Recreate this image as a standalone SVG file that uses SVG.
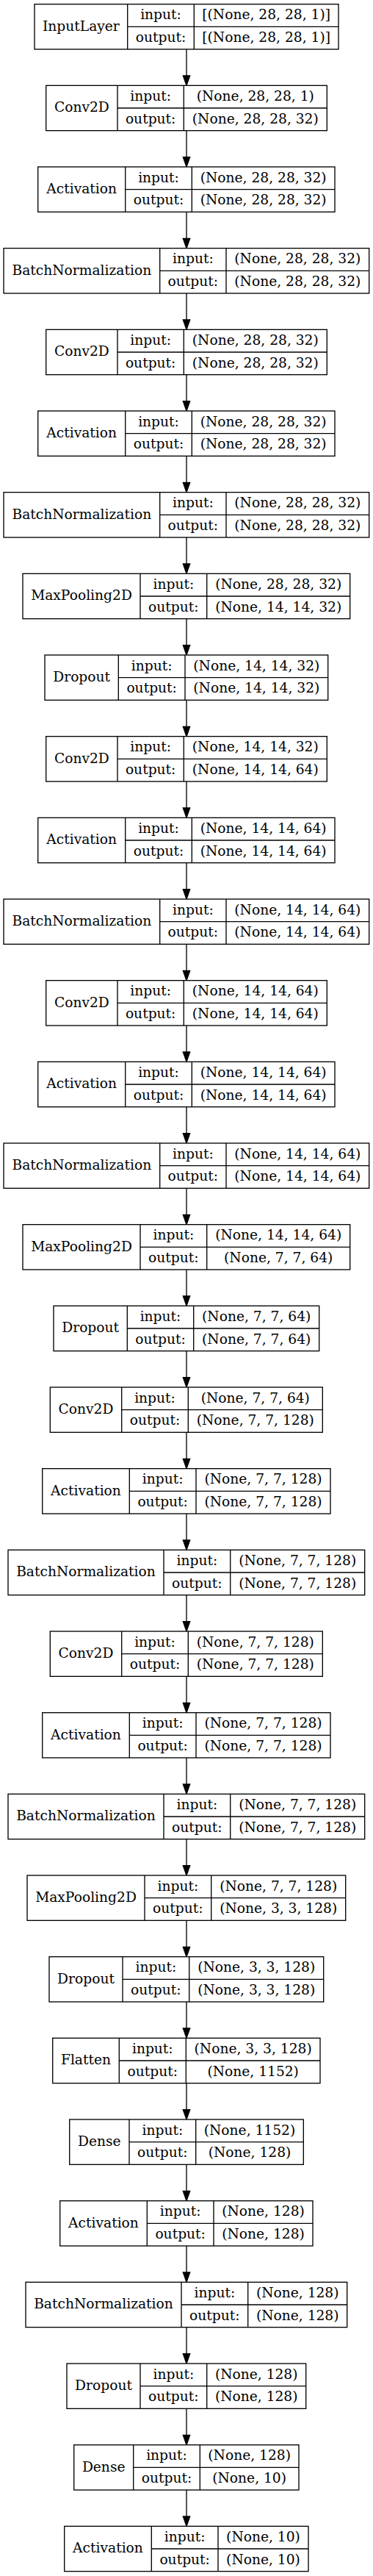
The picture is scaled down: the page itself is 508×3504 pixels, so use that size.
<svg xmlns="http://www.w3.org/2000/svg" xmlns:xlink="http://www.w3.org/1999/xlink" width="508" height="3504" viewBox="0 0 508 3504">
<style>
.b{fill:#fff;stroke:#000;stroke-width:1.33}
.l{fill:none;stroke:#000;stroke-width:1.33}
.c{fill:none;stroke:#000;stroke-width:1.33}
.h{fill:#000;stroke:#000;stroke-width:1.33}
text{font-family:"DejaVu Serif","Liberation Serif",serif;font-size:18.67px;text-anchor:middle;fill:#000}
</style>
<defs>
<path id="ah" class="h" d="M-4.67,-13.33L4.67,-13.33L0,0Z"/>
</defs>
<rect x="0" y="0" width="508" height="3504" fill="#fff"/>
<g id="connectors">
<path class="c" d="M254,67V103M254,177.67V213.67M254,288.33V324.33M254,399V435M254,509.67V545.67M254,620.33V656.33M254,731V767M254,841.67V877.67M254,952.33V988.33M254,1063V1099M254,1173.67V1209.67M254,1284.33V1320.33M254,1395V1431M254,1505.67V1541.67M254,1616.33V1652.33M254,1727V1763M254,1837.67V1873.67M254,1948.33V1984.33M254,2059V2095M254,2169.67V2205.67M254,2280.33V2316.33M254,2391V2427M254,2501.67V2537.67M254,2612.33V2648.33M254,2723V2759M254,2833.67V2869.67M254,2944.33V2980.33M254,3055V3091M254,3165.67V3201.67M254,3276.33V3312.33M254,3387V3423"/>
<use xlink:href="#ah" x="254" y="116.33"/><use xlink:href="#ah" x="254" y="227"/><use xlink:href="#ah" x="254" y="337.67"/><use xlink:href="#ah" x="254" y="448.33"/><use xlink:href="#ah" x="254" y="559"/><use xlink:href="#ah" x="254" y="669.67"/><use xlink:href="#ah" x="254" y="780.33"/><use xlink:href="#ah" x="254" y="891"/><use xlink:href="#ah" x="254" y="1001.67"/><use xlink:href="#ah" x="254" y="1112.33"/><use xlink:href="#ah" x="254" y="1223"/><use xlink:href="#ah" x="254" y="1333.67"/><use xlink:href="#ah" x="254" y="1444.33"/><use xlink:href="#ah" x="254" y="1555"/><use xlink:href="#ah" x="254" y="1665.67"/><use xlink:href="#ah" x="254" y="1776.33"/><use xlink:href="#ah" x="254" y="1887"/><use xlink:href="#ah" x="254" y="1997.67"/><use xlink:href="#ah" x="254" y="2108.33"/><use xlink:href="#ah" x="254" y="2219"/><use xlink:href="#ah" x="254" y="2329.67"/><use xlink:href="#ah" x="254" y="2440.33"/><use xlink:href="#ah" x="254" y="2551"/><use xlink:href="#ah" x="254" y="2661.67"/><use xlink:href="#ah" x="254" y="2772.33"/><use xlink:href="#ah" x="254" y="2883"/><use xlink:href="#ah" x="254" y="2993.67"/><use xlink:href="#ah" x="254" y="3104.33"/><use xlink:href="#ah" x="254" y="3215"/><use xlink:href="#ah" x="254" y="3325.67"/><use xlink:href="#ah" x="254" y="3436.33"/>
</g>
<g id="n0" transform="translate(0,5.67)"><rect class="b" x="47" y="0" width="414" height="61.33"/><path class="l" d="M173.7,0V61.33M264.3,0V61.33M173.7,30.67H461"/><text x="110.35" y="36">InputLayer</text><text x="219" y="20.5">input:</text><text x="362.65" y="20.5">[(None, 28, 28, 1)]</text><text x="219" y="51.2">output:</text><text x="362.65" y="51.2">[(None, 28, 28, 1)]</text></g>
<g id="n1" transform="translate(0,116.33)"><rect class="b" x="62.7" y="0" width="382.6" height="61.33"/><path class="l" d="M160,0V61.33M250.3,0V61.33M160,30.67H445.3"/><text x="111.35" y="36">Conv2D</text><text x="205.15" y="20.5">input:</text><text x="347.8" y="20.5">(None, 28, 28, 1)</text><text x="205.15" y="51.2">output:</text><text x="347.8" y="51.2">(None, 28, 28, 32)</text></g>
<g id="n2" transform="translate(0,227)"><rect class="b" x="51.7" y="0" width="404.3" height="61.33"/><path class="l" d="M170.7,0V61.33M261.3,0V61.33M170.7,30.67H456"/><text x="111.2" y="36">Activation</text><text x="216" y="20.5">input:</text><text x="358.65" y="20.5">(None, 28, 28, 32)</text><text x="216" y="51.2">output:</text><text x="358.65" y="51.2">(None, 28, 28, 32)</text></g>
<g id="n3" transform="translate(0,337.67)"><rect class="b" x="5" y="0" width="497.7" height="61.33"/><path class="l" d="M217.7,0V61.33M308,0V61.33M217.7,30.67H502.7"/><text x="111.35" y="36">BatchNormalization</text><text x="262.85" y="20.5">input:</text><text x="405.35" y="20.5">(None, 28, 28, 32)</text><text x="262.85" y="51.2">output:</text><text x="405.35" y="51.2">(None, 28, 28, 32)</text></g>
<g id="n4" transform="translate(0,448.33)"><rect class="b" x="62.7" y="0" width="382.6" height="61.33"/><path class="l" d="M160,0V61.33M250.3,0V61.33M160,30.67H445.3"/><text x="111.35" y="36">Conv2D</text><text x="205.15" y="20.5">input:</text><text x="347.8" y="20.5">(None, 28, 28, 32)</text><text x="205.15" y="51.2">output:</text><text x="347.8" y="51.2">(None, 28, 28, 32)</text></g>
<g id="n5" transform="translate(0,559)"><rect class="b" x="51.7" y="0" width="404.3" height="61.33"/><path class="l" d="M170.7,0V61.33M261.3,0V61.33M170.7,30.67H456"/><text x="111.2" y="36">Activation</text><text x="216" y="20.5">input:</text><text x="358.65" y="20.5">(None, 28, 28, 32)</text><text x="216" y="51.2">output:</text><text x="358.65" y="51.2">(None, 28, 28, 32)</text></g>
<g id="n6" transform="translate(0,669.67)"><rect class="b" x="5" y="0" width="497.7" height="61.33"/><path class="l" d="M217.7,0V61.33M308,0V61.33M217.7,30.67H502.7"/><text x="111.35" y="36">BatchNormalization</text><text x="262.85" y="20.5">input:</text><text x="405.35" y="20.5">(None, 28, 28, 32)</text><text x="262.85" y="51.2">output:</text><text x="405.35" y="51.2">(None, 28, 28, 32)</text></g>
<g id="n7" transform="translate(0,780.33)"><rect class="b" x="31" y="0" width="445.7" height="61.33"/><path class="l" d="M191,0V61.33M281.7,0V61.33M191,30.67H476.7"/><text x="111" y="36">MaxPooling2D</text><text x="236.35" y="20.5">input:</text><text x="379.2" y="20.5">(None, 28, 28, 32)</text><text x="236.35" y="51.2">output:</text><text x="379.2" y="51.2">(None, 14, 14, 32)</text></g>
<g id="n8" transform="translate(0,891)"><rect class="b" x="61" y="0" width="385.7" height="61.33"/><path class="l" d="M161.3,0V61.33M252,0V61.33M161.3,30.67H446.7"/><text x="111.15" y="36">Dropout</text><text x="206.65" y="20.5">input:</text><text x="349.35" y="20.5">(None, 14, 14, 32)</text><text x="206.65" y="51.2">output:</text><text x="349.35" y="51.2">(None, 14, 14, 32)</text></g>
<g id="n9" transform="translate(0,1001.67)"><rect class="b" x="62.7" y="0" width="382.6" height="61.33"/><path class="l" d="M160,0V61.33M250.3,0V61.33M160,30.67H445.3"/><text x="111.35" y="36">Conv2D</text><text x="205.15" y="20.5">input:</text><text x="347.8" y="20.5">(None, 14, 14, 32)</text><text x="205.15" y="51.2">output:</text><text x="347.8" y="51.2">(None, 14, 14, 64)</text></g>
<g id="n10" transform="translate(0,1112.33)"><rect class="b" x="51.7" y="0" width="404.3" height="61.33"/><path class="l" d="M170.7,0V61.33M261.3,0V61.33M170.7,30.67H456"/><text x="111.2" y="36">Activation</text><text x="216" y="20.5">input:</text><text x="358.65" y="20.5">(None, 14, 14, 64)</text><text x="216" y="51.2">output:</text><text x="358.65" y="51.2">(None, 14, 14, 64)</text></g>
<g id="n11" transform="translate(0,1223)"><rect class="b" x="5" y="0" width="497.7" height="61.33"/><path class="l" d="M217.7,0V61.33M308,0V61.33M217.7,30.67H502.7"/><text x="111.35" y="36">BatchNormalization</text><text x="262.85" y="20.5">input:</text><text x="405.35" y="20.5">(None, 14, 14, 64)</text><text x="262.85" y="51.2">output:</text><text x="405.35" y="51.2">(None, 14, 14, 64)</text></g>
<g id="n12" transform="translate(0,1333.67)"><rect class="b" x="62.7" y="0" width="382.6" height="61.33"/><path class="l" d="M160,0V61.33M250.3,0V61.33M160,30.67H445.3"/><text x="111.35" y="36">Conv2D</text><text x="205.15" y="20.5">input:</text><text x="347.8" y="20.5">(None, 14, 14, 64)</text><text x="205.15" y="51.2">output:</text><text x="347.8" y="51.2">(None, 14, 14, 64)</text></g>
<g id="n13" transform="translate(0,1444.33)"><rect class="b" x="51.7" y="0" width="404.3" height="61.33"/><path class="l" d="M170.7,0V61.33M261.3,0V61.33M170.7,30.67H456"/><text x="111.2" y="36">Activation</text><text x="216" y="20.5">input:</text><text x="358.65" y="20.5">(None, 14, 14, 64)</text><text x="216" y="51.2">output:</text><text x="358.65" y="51.2">(None, 14, 14, 64)</text></g>
<g id="n14" transform="translate(0,1555)"><rect class="b" x="5" y="0" width="497.7" height="61.33"/><path class="l" d="M217.7,0V61.33M308,0V61.33M217.7,30.67H502.7"/><text x="111.35" y="36">BatchNormalization</text><text x="262.85" y="20.5">input:</text><text x="405.35" y="20.5">(None, 14, 14, 64)</text><text x="262.85" y="51.2">output:</text><text x="405.35" y="51.2">(None, 14, 14, 64)</text></g>
<g id="n15" transform="translate(0,1665.67)"><rect class="b" x="31" y="0" width="445.7" height="61.33"/><path class="l" d="M191,0V61.33M281.7,0V61.33M191,30.67H476.7"/><text x="111" y="36">MaxPooling2D</text><text x="236.35" y="20.5">input:</text><text x="379.2" y="20.5">(None, 14, 14, 64)</text><text x="236.35" y="51.2">output:</text><text x="379.2" y="51.2">(None, 7, 7, 64)</text></g>
<g id="n16" transform="translate(0,1776.33)"><rect class="b" x="73" y="0" width="361.7" height="61.33"/><path class="l" d="M173.3,0V61.33M263.7,0V61.33M173.3,30.67H434.7"/><text x="123.15" y="36">Dropout</text><text x="218.5" y="20.5">input:</text><text x="349.2" y="20.5">(None, 7, 7, 64)</text><text x="218.5" y="51.2">output:</text><text x="349.2" y="51.2">(None, 7, 7, 64)</text></g>
<g id="n17" transform="translate(0,1887)"><rect class="b" x="68.3" y="0" width="371" height="61.33"/><path class="l" d="M165.7,0V61.33M256.3,0V61.33M165.7,30.67H439.3"/><text x="117" y="36">Conv2D</text><text x="211" y="20.5">input:</text><text x="347.8" y="20.5">(None, 7, 7, 64)</text><text x="211" y="51.2">output:</text><text x="347.8" y="51.2">(None, 7, 7, 128)</text></g>
<g id="n18" transform="translate(0,1997.67)"><rect class="b" x="57.7" y="0" width="392.3" height="61.33"/><path class="l" d="M176.3,0V61.33M267,0V61.33M176.3,30.67H450"/><text x="117" y="36">Activation</text><text x="221.65" y="20.5">input:</text><text x="358.5" y="20.5">(None, 7, 7, 128)</text><text x="221.65" y="51.2">output:</text><text x="358.5" y="51.2">(None, 7, 7, 128)</text></g>
<g id="n19" transform="translate(0,2108.33)"><rect class="b" x="11" y="0" width="485.7" height="61.33"/><path class="l" d="M223,0V61.33M313.7,0V61.33M223,30.67H496.7"/><text x="117" y="36">BatchNormalization</text><text x="268.35" y="20.5">input:</text><text x="405.2" y="20.5">(None, 7, 7, 128)</text><text x="268.35" y="51.2">output:</text><text x="405.2" y="51.2">(None, 7, 7, 128)</text></g>
<g id="n20" transform="translate(0,2219)"><rect class="b" x="68.3" y="0" width="371" height="61.33"/><path class="l" d="M165.7,0V61.33M256.3,0V61.33M165.7,30.67H439.3"/><text x="117" y="36">Conv2D</text><text x="211" y="20.5">input:</text><text x="347.8" y="20.5">(None, 7, 7, 128)</text><text x="211" y="51.2">output:</text><text x="347.8" y="51.2">(None, 7, 7, 128)</text></g>
<g id="n21" transform="translate(0,2329.67)"><rect class="b" x="57.7" y="0" width="392.3" height="61.33"/><path class="l" d="M176.3,0V61.33M267,0V61.33M176.3,30.67H450"/><text x="117" y="36">Activation</text><text x="221.65" y="20.5">input:</text><text x="358.5" y="20.5">(None, 7, 7, 128)</text><text x="221.65" y="51.2">output:</text><text x="358.5" y="51.2">(None, 7, 7, 128)</text></g>
<g id="n22" transform="translate(0,2440.33)"><rect class="b" x="11" y="0" width="485.7" height="61.33"/><path class="l" d="M223,0V61.33M313.7,0V61.33M223,30.67H496.7"/><text x="117" y="36">BatchNormalization</text><text x="268.35" y="20.5">input:</text><text x="405.2" y="20.5">(None, 7, 7, 128)</text><text x="268.35" y="51.2">output:</text><text x="405.2" y="51.2">(None, 7, 7, 128)</text></g>
<g id="n23" transform="translate(0,2551)"><rect class="b" x="37" y="0" width="433.7" height="61.33"/><path class="l" d="M197,0V61.33M287.7,0V61.33M197,30.67H470.7"/><text x="117" y="36">MaxPooling2D</text><text x="242.35" y="20.5">input:</text><text x="379.2" y="20.5">(None, 7, 7, 128)</text><text x="242.35" y="51.2">output:</text><text x="379.2" y="51.2">(None, 3, 3, 128)</text></g>
<g id="n24" transform="translate(0,2661.67)"><rect class="b" x="67" y="0" width="373.7" height="61.33"/><path class="l" d="M167,0V61.33M257.7,0V61.33M167,30.67H440.7"/><text x="117" y="36">Dropout</text><text x="212.35" y="20.5">input:</text><text x="349.2" y="20.5">(None, 3, 3, 128)</text><text x="212.35" y="51.2">output:</text><text x="349.2" y="51.2">(None, 3, 3, 128)</text></g>
<g id="n25" transform="translate(0,2772.33)"><rect class="b" x="71.7" y="0" width="364.3" height="61.33"/><path class="l" d="M162.3,0V61.33M253.3,0V61.33M162.3,30.67H436"/><text x="117" y="36">Flatten</text><text x="207.8" y="20.5">input:</text><text x="344.65" y="20.5">(None, 3, 3, 128)</text><text x="207.8" y="51.2">output:</text><text x="344.65" y="51.2">(None, 1152)</text></g>
<g id="n26" transform="translate(0,2883)"><rect class="b" x="94.7" y="0" width="318.6" height="61.33"/><path class="l" d="M176,0V61.33M266.7,0V61.33M176,30.67H413.3"/><text x="135.35" y="36">Dense</text><text x="221.35" y="20.5">input:</text><text x="340" y="20.5">(None, 1152)</text><text x="221.35" y="51.2">output:</text><text x="340" y="51.2">(None, 128)</text></g>
<g id="n27" transform="translate(0,2993.67)"><rect class="b" x="81.7" y="0" width="344.3" height="61.33"/><path class="l" d="M200.3,0V61.33M291,0V61.33M200.3,30.67H426"/><text x="141" y="36">Activation</text><text x="245.65" y="20.5">input:</text><text x="358.5" y="20.5">(None, 128)</text><text x="245.65" y="51.2">output:</text><text x="358.5" y="51.2">(None, 128)</text></g>
<g id="n28" transform="translate(0,3104.33)"><rect class="b" x="35" y="0" width="437.7" height="61.33"/><path class="l" d="M247,0V61.33M337.7,0V61.33M247,30.67H472.7"/><text x="141" y="36">BatchNormalization</text><text x="292.35" y="20.5">input:</text><text x="405.2" y="20.5">(None, 128)</text><text x="292.35" y="51.2">output:</text><text x="405.2" y="51.2">(None, 128)</text></g>
<g id="n29" transform="translate(0,3215)"><rect class="b" x="91" y="0" width="325.7" height="61.33"/><path class="l" d="M191,0V61.33M281.7,0V61.33M191,30.67H416.7"/><text x="141" y="36">Dropout</text><text x="236.35" y="20.5">input:</text><text x="349.2" y="20.5">(None, 128)</text><text x="236.35" y="51.2">output:</text><text x="349.2" y="51.2">(None, 128)</text></g>
<g id="n30" transform="translate(0,3325.67)"><rect class="b" x="100.7" y="0" width="306.3" height="61.33"/><path class="l" d="M181.7,0V61.33M272.3,0V61.33M181.7,30.67H407"/><text x="141.2" y="36">Dense</text><text x="227" y="20.5">input:</text><text x="339.65" y="20.5">(None, 128)</text><text x="227" y="51.2">output:</text><text x="339.65" y="51.2">(None, 10)</text></g>
<g id="n31" transform="translate(0,3436.33)"><rect class="b" x="87.7" y="0" width="332.3" height="61.33"/><path class="l" d="M206.3,0V61.33M297,0V61.33M206.3,30.67H420"/><text x="147" y="36">Activation</text><text x="251.65" y="20.5">input:</text><text x="358.5" y="20.5">(None, 10)</text><text x="251.65" y="51.2">output:</text><text x="358.5" y="51.2">(None, 10)</text></g>
</svg>
